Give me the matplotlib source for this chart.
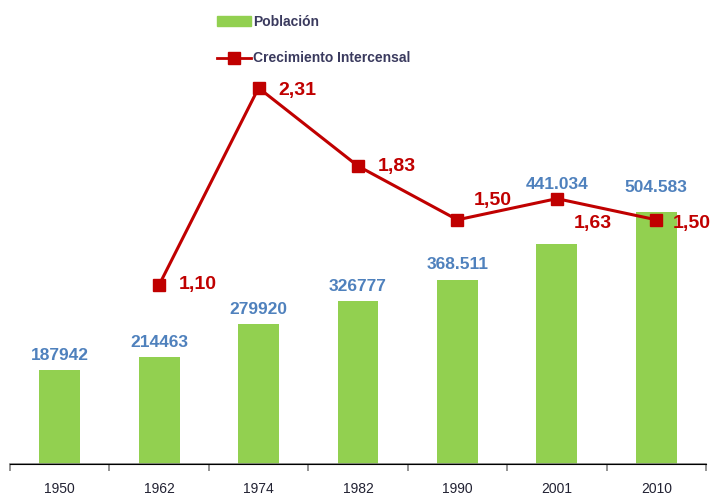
import matplotlib.pyplot as plt
from matplotlib.lines import Line2D
from matplotlib.patches import Patch

years = ["1950", "1962", "1974", "1982", "1990", "2001", "2010"]
poblacion = [187942, 214463, 279920, 326777, 368511, 441034, 504583]
pob_labels = ["187942", "214463", "279920", "326777", "368.511", "441.034", "504.583"]
crec_years = [1, 2, 3, 4, 5, 6]
crecimiento = [1.10, 2.31, 1.83, 1.50, 1.63, 1.50]
crec_labels = ["1,10", "2,31", "1,83", "1,50", "1,63", "1,50"]

GREEN = "#92d050"
RED = "#c00000"
BLUE = "#4f81bd"

plt.rcParams["font.family"] = ["Liberation Sans", "DejaVu Sans"]

fig = plt.figure(figsize=(7.14, 4.95), dpi=100)
ax = fig.add_axes([10 / 714, 31 / 495, 696 / 714, 407 / 495])
ax2 = ax.twinx()

x = list(range(len(years)))
ax.bar(x, poblacion, width=0.41, color=GREEN, zorder=2)
ax.set_xlim(-0.5, 6.5)
ax.set_ylim(0, 815000)
ax2.set_ylim(0, 2.5)

ax2.plot(crec_years, crecimiento, color=RED, linewidth=2.2, marker="s",
         markersize=9, zorder=3)

# population labels (offsets in points)
pob_offsets = [(0, 5), (0, 5), (0, 5), (0, 5), (0, 6), (0, 37), (0, 12)]
for xi, v, lab, off in zip(x, poblacion, pob_labels, pob_offsets):
    ax.annotate(lab, (xi, v), xytext=off, textcoords="offset points",
                ha="center", va="bottom", fontsize=12.5, fontweight="bold",
                color=BLUE)

crec_offsets = [(14, 0), (14, -2), (14, 0), (12, 14), (12, -18), (12, -3)]
for xi, v, lab, off in zip(crec_years, crecimiento, crec_labels, crec_offsets):
    ax2.annotate(lab, (xi, v), xytext=off, textcoords="offset points",
                 ha="left", va="center", fontsize=14, fontweight="bold",
                 color=RED)

for a in (ax, ax2):
    for side in ("top", "right", "left"):
        a.spines[side].set_visible(False)
    a.set_yticks([])
ax.spines["bottom"].set_color("#808080")
ax.spines["bottom"].set_linewidth(1.2)

ax.set_xticks([i - 0.5 for i in range(len(years) + 1)])
ax.set_xticklabels([])
ax.tick_params(axis="x", which="major", length=5, color="#808080", width=1.2)
ax.set_xticks(x, minor=True)
ax.set_xticklabels(years, minor=True, fontsize=10, color="#222233")
ax.tick_params(axis="x", which="minor", length=0, pad=13)

handles = [Patch(color=GREEN),
           Line2D([], [], color=RED, linewidth=2, marker="s", markersize=9)]
fig.legend(handles, ["Población", "Crecimiento Intercensal"],
           loc="upper left", bbox_to_anchor=(204 / 714, 1 - 2 / 495),
           frameon=False, prop={"size": 10, "weight": "bold"},
           labelcolor="#3a3a5e", handlelength=2.5, handletextpad=0.15,
           labelspacing=1.65)

fig.savefig("out.png", dpi=100)
